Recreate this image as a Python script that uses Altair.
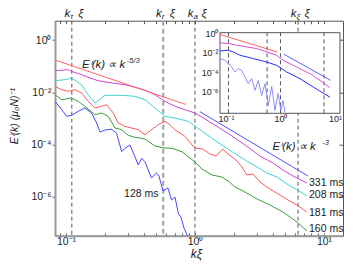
import altair as alt
import pandas as pd

FONT = "Liberation Sans"
INK = "#222222"

# ---------------- main panel: log10(k xi) and log10(E)
lk_331 = [-1.085, -0.984, -0.953, -0.876, -0.829, -0.752, -0.643, -0.543, -0.442, -0.364,
          -0.310, -0.233, -0.155, -0.078, 0.0, 0.078, 0.178, 0.287, 0.388, 0.504,
          0.605, 0.682, 0.760, 0.868]
le_331 = [-1.176, -1.138, -1.207, -1.330, -1.429, -1.559, -1.648, -1.713, -1.839, -1.966,
          -2.096, -2.349, -2.540, -2.670, -2.797, -3.027, -3.333, -3.678, -4.023, -4.444,
          -4.713, -4.981, -5.211, -5.479]

lk_208 = [-1.085, -1.008, -0.957, -0.879, -0.828, -0.775, -0.723, -0.698, -0.568, -0.465,
          -0.388, -0.310, -0.233, -0.155, -0.052, 0.039, 0.140, 0.209, 0.326, 0.426,
          0.481, 0.558, 0.636, 0.736, 0.798, 0.868]
le_208 = [-1.559, -1.521, -1.456, -1.713, -2.096, -2.414, -2.222, -2.119, -2.119, -2.157,
          -2.287, -2.605, -2.923, -2.989, -3.115, -3.437, -3.793, -4.023, -4.406, -4.713,
          -4.866, -5.096, -5.249, -5.594, -5.747, -5.977]

lk_181 = [-1.085, -1.033, -0.982, -0.930, -0.878, -0.827, -0.775, -0.723, -0.685, -0.633,
          -0.595, -0.543, -0.491, -0.440, -0.388, -0.336, -0.285, -0.233, -0.194, -0.155,
          -0.078, -0.016, 0.016, 0.062, 0.116, 0.163, 0.217, 0.256, 0.318, 0.364,
          0.403, 0.450, 0.504, 0.581, 0.659, 0.721, 0.791, 0.868]
le_181 = [-1.774, -1.904, -1.966, -1.904, -2.031, -2.349, -2.605, -2.540, -2.479, -2.797,
          -3.180, -3.307, -3.372, -3.437, -3.628, -3.437, -3.245, -3.115, -3.245, -3.437,
          -3.690, -4.061, -4.149, -4.176, -4.368, -4.444, -4.176, -4.368, -4.598, -4.866,
          -5.172, -5.134, -5.441, -5.709, -5.939, -6.130, -6.322, -6.590]

lk_160 = [-1.085, -1.033, -0.956, -0.905, -0.853, -0.775, -0.723, -0.672, -0.620, -0.568,
          -0.517, -0.465, -0.388, -0.310, -0.233, -0.178, -0.101, -0.054, 0.0, 0.054,
          0.132, 0.209, 0.264, 0.310, 0.388, 0.481, 0.581, 0.682, 0.791, 0.868]
le_160 = [-2.096, -2.287, -2.222, -2.349, -2.540, -2.862, -2.797, -2.923, -3.372, -3.437,
          -3.651, -3.728, -3.793, -4.061, -4.138, -4.149, -4.280, -4.471, -4.663, -4.943,
          -5.172, -5.249, -5.429, -5.632, -5.824, -6.092, -6.322, -6.590, -6.973, -7.318]

lk_128 = [-1.085, -1.033, -0.995, -0.956, -0.905, -0.853, -0.801, -0.762, -0.736, -0.698,
          -0.646, -0.607, -0.568, -0.543, -0.504, -0.465, -0.440, -0.413, -0.388, -0.337,
          -0.298, -0.279, -0.248, -0.209, -0.182, -0.155, -0.128, -0.109, -0.085, -0.054,
          -0.031]
le_128 = [-2.349, -2.670, -2.923, -2.885, -2.732, -2.605, -2.797, -3.180, -3.525, -3.448,
          -3.421, -3.575, -4.280, -4.149, -4.023, -4.471, -4.789, -4.533, -4.663, -5.287,
          -5.096, -5.211, -5.785, -5.671, -6.130, -6.015, -6.667, -6.782, -7.203, -7.548,
          -7.893]

# reference power laws
lk_ref53 = [-1.085, -0.070]
le_ref53 = [-0.766, -2.471]
lk_ref3 = [0.039, 0.876]
le_ref3 = [-2.747, -5.211]

# characteristic wavenumbers (k xi)
scale_k = [0.111, 0.568, 1.0, 6.3]
scale_sub = ["τ", "r", "a", "ξ"]

series_names = ["331 ms", "208 ms", "181 ms", "160 ms", "128 ms"]
series_colors = ["#cc44d4", "#3fd3d3", "#ff5555", "#3c9c3c", "#4646ff"]
label_lk = [0.884, 0.884, 0.884, 0.884]
label_le = [-5.479, -5.939, -6.617, -7.253]
label_128_lk = [-0.283]
label_128_le = [-5.900]

# ---------------- inset
ilk_red = [-1.110, -0.059]
ile_red = [-0.134, -1.922]
ilk_mag = [-1.110, -0.958, -0.804, -0.620, -0.437, -0.253, -0.070, 0.051, 0.297, 0.541, 0.725, 0.908]
ile_mag = [-0.997, -1.059, -1.233, -1.408, -1.572, -1.922, -2.261, -2.775, -3.464, -4.142, -4.830, -5.581]
ilk_blue = [-1.110, -0.958, -0.866, -0.743, -0.499, -0.253, -0.070, 0.114, 0.358, 0.602, 0.908]
ile_blue = [-1.819, -1.747, -1.922, -2.261, -2.600, -2.950, -3.289, -3.977, -4.656, -5.519, -6.547]
ilk_ref = [0.064, 0.921]
ile_ref = [-2.158, -4.830]
ilk_light = [-1.110, -1.018, -0.895, -0.835, -0.774, -0.712, -0.651, -0.591, -0.528, -0.468,
             -0.407, -0.345, -0.284, -0.224, -0.161, -0.101, -0.046, 0.009, 0.046, 0.083]
ile_light = [-2.600, -2.775, -3.464, -3.977, -3.628, -3.803, -4.491, -5.170, -4.656, -5.858,
             -4.830, -6.372, -5.170, -7.400, -5.447, -7.914, -6.166, -7.914, -6.886, -8.100]


def curve(lk, le, name=""):
    if len(lk) != len(le):
        raise ValueError("length mismatch " + name)
    return pd.DataFrame({"k": [10 ** v for v in lk], "E": [10 ** v for v in le], "s": name})


W, H = 288, 215
X_LO, X_HI = -1.085, -1.085 + 288 / 129.0
Y_HI = 0.74
Y_LO = Y_HI - 215 / 26.1
xs = alt.Scale(type="log", domain=[10 ** X_LO, 10 ** X_HI], nice=False)
ys = alt.Scale(type="log", domain=[10 ** Y_LO, 10 ** Y_HI], nice=False)

SUP_X = "datum.value < 0.5 ? '10⁻¹' : (datum.value < 5 ? '10⁰' : '10¹')"
SUP_Y = ("datum.value > 0.5 ? '10⁰' : (datum.value > 5e-3 ? '10⁻²' : "
         "(datum.value > 5e-5 ? '10⁻⁴' : '10⁻⁶'))")

minor_x = [0.09, 0.2, 0.3, 0.4, 0.5, 0.6, 0.7, 0.8, 0.9, 2, 3, 4, 5, 6, 7, 8, 9]
major_x = [0.1, 1, 10]
major_y = [1, 1e-2, 1e-4, 1e-6]

x_axis_main = alt.Axis(orient="bottom", values=major_x, labelExpr=SUP_X, labelFont=FONT,
                       labelFontSize=10.5, labelColor=INK, labelPadding=1, labelFlush=False,
                       labelOverlap=False, ticks=False, domainColor="#9a9a9a", domainWidth=2,
                       grid=False, title="kξ", titleFont=FONT, titleFontSize=12,
                       titleFontStyle="italic", titleFontWeight="normal", titleColor=INK,
                       titleX=141, titleY=17.5, titleAlign="center", titleBaseline="middle")
y_axis_main = alt.Axis(orient="left", values=major_y, labelExpr=SUP_Y, labelFont=FONT,
                       labelFontSize=10.5, labelColor=INK, labelPadding=1, labelOverlap=False,
                       tickSize=3, tickColor="#666666", domainColor="#9a9a9a", domainWidth=2,
                       grid=False, title="Eⁱ(k) (μ₀N)⁻¹", titleFont=FONT, titleFontSize=10.5,
                       titleFontStyle="italic", titleFontWeight="normal", titleColor=INK,
                       titleX=-41, titleY=95, titleAngle=270, titleAlign="center",
                       titleBaseline="middle")
top_ticks = alt.Axis(orient="top", values=major_x + minor_x, labels=False, domain=False,
                     tickSize=3, offset=-3, tickColor="#555555", grid=False, title=None)
bottom_ticks = alt.Axis(orient="bottom", values=major_x + minor_x, labels=False, domain=False,
                        tickSize=3, offset=-3, tickColor="#777777", grid=False, title=None)
right_ticks = alt.Axis(orient="right", values=major_y, labels=False, domain=False,
                       tickSize=4, offset=-4, tickColor="#555555", grid=False, title=None)

main_df = pd.concat([curve(lk_331, le_331, "331 ms"), curve(lk_208, le_208, "208 ms"),
                     curve(lk_181, le_181, "181 ms"), curve(lk_160, le_160, "160 ms"),
                     curve(lk_128, le_128, "128 ms")], ignore_index=True)

vl_df = pd.DataFrame({"k": scale_k, "sub": scale_sub})
thick = vl_df[vl_df["sub"] == "r"]
thin = vl_df[vl_df["sub"] != "r"]

vl_thin = alt.Chart(thin).mark_rule(strokeDash=[4, 3], color="#555555", strokeWidth=1).encode(
    x=alt.X("k:Q", scale=xs, axis=top_ticks))
vl_thick = alt.Chart(thick).mark_rule(strokeDash=[5, 3], color="#a0a0a0", strokeWidth=2).encode(
    x=alt.X("k:Q", scale=xs, axis=None))

curves = alt.Chart(main_df).mark_line(clip=True, strokeWidth=1).encode(
    x=alt.X("k:Q", scale=xs, axis=x_axis_main),
    y=alt.Y("E:Q", scale=ys, axis=y_axis_main),
    color=alt.Color("s:N", scale=alt.Scale(domain=series_names, range=series_colors), legend=None),
)

ref53 = alt.Chart(curve(lk_ref53, le_ref53)).mark_line(color="#ff6464", strokeWidth=1).encode(
    x=alt.X("k:Q", scale=xs, axis=bottom_ticks), y=alt.Y("E:Q", scale=ys, axis=right_ticks))
ref3 = alt.Chart(curve(lk_ref3, le_ref3)).mark_line(color="#5050ff", strokeWidth=1).encode(
    x=alt.X("k:Q", scale=xs, axis=None), y=alt.Y("E:Q", scale=ys, axis=None))

# top labels k_? xi (baseline at page y ~16.5)
TOP_Y = -4.0
top_k = alt.Chart(vl_df).mark_text(text="k", align="right", baseline="alphabetic", dx=-1.5,
                                   font=FONT, fontSize=11.5, fontStyle="italic", color=INK).encode(
    x=alt.X("k:Q", scale=xs, axis=None), y=alt.value(TOP_Y))
top_sub = alt.Chart(vl_df).mark_text(align="left", baseline="alphabetic", dx=-1.5, dy=2.5,
                                     font=FONT, fontSize=8, fontStyle="italic", color=INK).encode(
    x=alt.X("k:Q", scale=xs, axis=None), y=alt.value(TOP_Y), text="sub:N")
top_xi = alt.Chart(vl_df).mark_text(text="ξ", align="left", baseline="alphabetic", dx=6.5,
                                    font=FONT, fontSize=11.5, fontStyle="italic", color=INK).encode(
    x=alt.X("k:Q", scale=xs, axis=None), y=alt.value(TOP_Y))

ann_df = curve([-0.876, 0.601], [-0.958, -4.100])
ann_df["t"] = ["Eⁱ(k) ∝ k", "Eⁱ(k) ∝ k"]
sup_df = curve([-0.528, 0.986], [-0.790, -3.930])
sup_df["t"] = ["-5/3", "-3"]
ann = alt.Chart(ann_df).mark_text(align="left", baseline="middle", font=FONT, fontSize=11.5,
                                  fontStyle="italic", color=INK).encode(
    x=alt.X("k:Q", scale=xs, axis=None), y=alt.Y("E:Q", scale=ys, axis=None), text="t:N")
ann_sup = alt.Chart(sup_df).mark_text(align="left", baseline="middle", font=FONT, fontSize=7.5,
                                      fontStyle="italic", color=INK).encode(
    x=alt.X("k:Q", scale=xs, axis=None), y=alt.Y("E:Q", scale=ys, axis=None), text="t:N")

lab_df = curve(label_lk, label_le)
lab_df["t"] = series_names[:4]
lab = alt.Chart(lab_df).mark_text(align="left", baseline="middle", font=FONT, fontSize=10.5,
                                  color=INK).encode(
    x=alt.X("k:Q", scale=xs, axis=None), y=alt.Y("E:Q", scale=ys, axis=None), text="t:N")
lab128_df = curve(label_128_lk, label_128_le)
lab128_df["t"] = [series_names[4]]
lab128 = alt.Chart(lab128_df).mark_text(align="right", baseline="middle", font=FONT, fontSize=10.5,
                                        color=INK).encode(
    x=alt.X("k:Q", scale=xs, axis=None), y=alt.Y("E:Q", scale=ys, axis=None), text="t:N")

main = alt.layer(vl_thin, vl_thick, curves, ref53, ref3, top_k, top_sub, top_xi,
                 ann, ann_sup, lab, lab128).resolve_axis(x="independent", y="independent")

# ---------------- inset panel
IX_LO, IX_HI = -1.11, 1.092
IY_LO, IY_HI = -8.2, 0.05
ixs = alt.Scale(type="log", domain=[10 ** IX_LO, 10 ** IX_HI], range=[165, 285], nice=False)
iys = alt.Scale(type="log", domain=[10 ** IY_LO, 10 ** IY_HI], range=[92.6, 12], nice=False)

inset_x_axis = alt.Axis(orient="bottom", offset=-(H - 92.6), values=major_x, labelExpr=SUP_X,
                        labelFont=FONT, labelFontSize=9, labelColor=INK, labelPadding=1,
                        labelFlush=False, labelOverlap=False, ticks=False, domain=False,
                        grid=False, title=None)
inset_y_axis = alt.Axis(orient="left", offset=-165, values=major_y, labelExpr=SUP_Y,
                        labelFont=FONT, labelFontSize=9, labelColor=INK, labelPadding=2,
                        labelOverlap=False, ticks=False, domain=False, grid=False, title=None)

box_df = pd.DataFrame({"k0": [10 ** IX_LO], "k1": [10 ** IX_HI],
                       "E0": [10 ** IY_LO], "E1": [10 ** IY_HI]})
box = alt.Chart(box_df).mark_rect(fill="white", stroke="#555555", strokeWidth=1).encode(
    x=alt.X("k0:Q", scale=ixs, axis=inset_x_axis), x2="k1:Q",
    y=alt.Y("E0:Q", scale=iys, axis=inset_y_axis), y2="E1:Q")

ivl_df = pd.DataFrame({"k": scale_k, "E0": [10 ** IY_LO] * 4, "E1": [10 ** IY_HI] * 4})
ivl = alt.Chart(ivl_df).mark_rule(strokeDash=[4, 3], color="#555555", strokeWidth=1).encode(
    x=alt.X("k:Q", scale=ixs, axis=None), y=alt.Y("E0:Q", scale=iys, axis=None), y2="E1:Q")


def inset_line(lk, le, color, width=1.0):
    return alt.Chart(curve(lk, le)).mark_line(color=color, strokeWidth=width, clip=True).encode(
        x=alt.X("k:Q", scale=ixs, axis=None), y=alt.Y("E:Q", scale=iys, axis=None))


inset = alt.layer(
    box, ivl,
    inset_line(ilk_light, ile_light, "#8c8cff"),
    inset_line(ilk_red, ile_red, "#ff6060"),
    inset_line(ilk_mag, ile_mag, "#d050d8"),
    inset_line(ilk_blue, ile_blue, "#2a2aff"),
    inset_line(ilk_ref, ile_ref, "#5a5aff"),
).resolve_axis(x="independent", y="independent")

chart = alt.layer(main, inset).resolve_scale(x="independent", y="independent").properties(
    width=W, height=H,
    autosize=alt.AutoSizeParams(type="none"),
    padding={"left": 47, "top": 12.7, "right": 2, "bottom": 27},
).configure_view(stroke="#555555", strokeWidth=1)

chart.save("out.html", embed_options={"renderer": "svg", "actions": False})
